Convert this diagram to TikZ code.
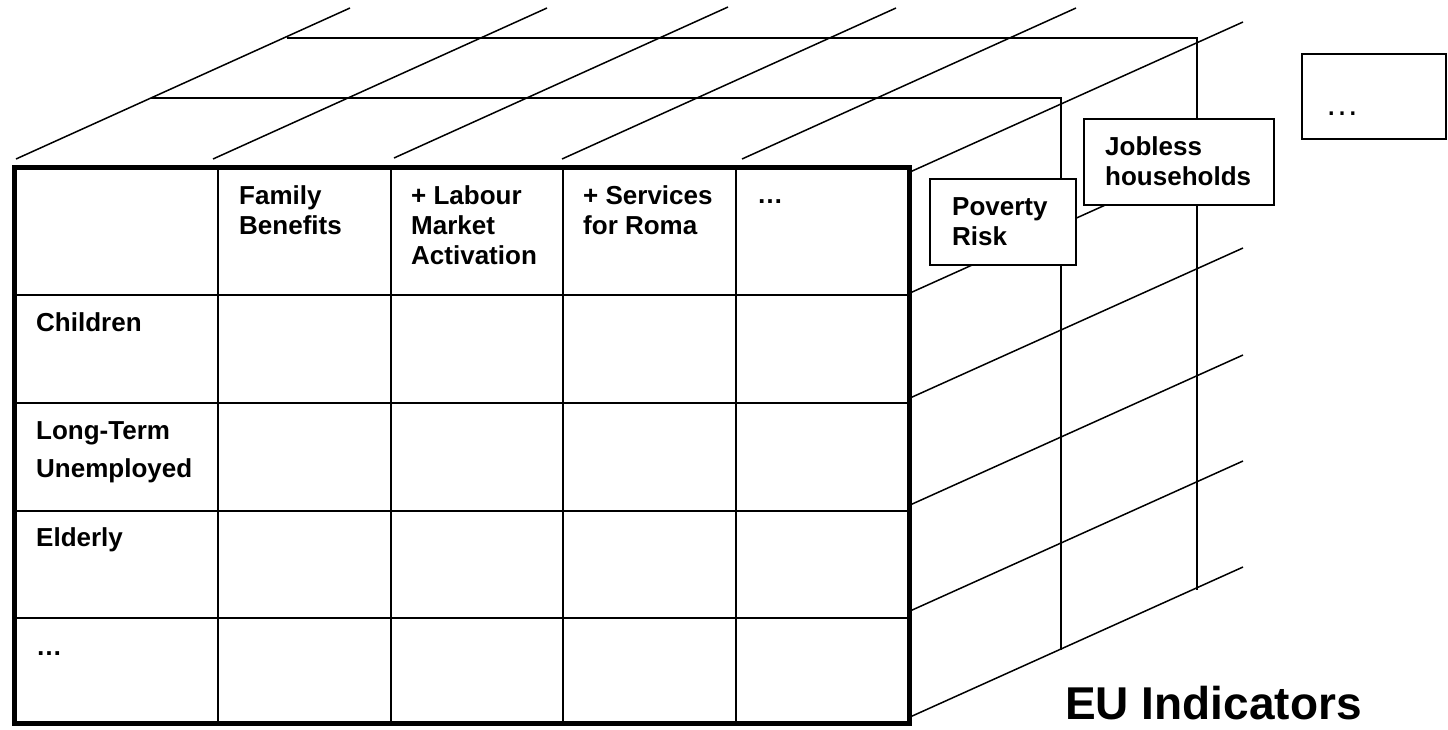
\documentclass[tikz,border=0pt]{standalone}
\usepackage{fontspec}
\setmainfont{Liberation Sans}
\newcommand\celltext[1]{\begin{tabular}[t]{@{}l@{}}#1\end{tabular}}
\begin{document}
\begin{tikzpicture}[x=1pt,y=-1pt,
  thinline/.style={line width=1.5pt},
  gridline/.style={line width=2.2pt},
  outerline/.style={line width=5pt},
  boxshape/.style={draw, line width=1.8pt, fill=white},
  lbl/.style={font=\fontsize{26}{30}\selectfont\bfseries, anchor=base west, inner sep=0pt}]
\useasboundingbox (0,0) rectangle (1448,729);

% top face depth lines
\foreach \x/\y [count=\i] in {16/159, 213/159, 394/158, 562/159, 742/159}{
  \coordinate (t\i) at (\x,\y);
  \draw[thinline] (t\i) -- ++(334,-151);
}
% right face depth lines
\foreach \y [count=\i] in {172,293,398,505,611,717}{
  \coordinate (r\i) at (910,\y);
  \draw[thinline] (r\i) -- ++(333,-150);
}
% back slices
\coordinate (s1a) at (151,98);  \coordinate (s1b) at (1061,98);  \coordinate (s1c) at (1061,650);
\coordinate (s2a) at (287,38);  \coordinate (s2b) at (1197,38);  \coordinate (s2c) at (1197,590);
\draw[thinline] (s1a) -- (s1b) -- (s1c);
\draw[thinline] (s2a) -- (s2b) -- (s2c);

% table grid
\foreach \x in {218,391,563,736}
  \draw[gridline] (\x,167) -- (\x,723);
\foreach \y in {295,403,511,618}
  \draw[gridline] (14,\y) -- (909,\y);
\draw[outerline] (14,167) rectangle (909,723);

% header texts
\node[lbl] (h1) at (239,204) {\celltext{Family\\Benefits}};
\node[lbl] (h2) at (411,204) {\celltext{+ Labour\\Market\\Activation}};
\node[lbl] (h3) at (583,204) {\celltext{+ Services\\for Roma}};
\node[lbl] (h4) at (757,203) {…};
% row texts
\node[lbl] (c1) at (36,331) {Children};
\node[lbl] (c2) at (36,439) {\celltext{Long-Term\\[8pt]Unemployed}};
\node[lbl] (c3) at (36,546) {Elderly};
\node[lbl] (c4) at (36,655) {…};

% indicator boxes
\draw[boxshape] (930,179) rectangle (1076,265);
\node[lbl] (pov) at (952,215) {\celltext{Poverty\\Risk}};
\draw[boxshape] (1084,119) rectangle (1274,205);
\node[lbl] (job) at (1105,155) {\celltext{Jobless\\households}};
\draw[boxshape] (1302,54) rectangle (1446,139);
\node[font=\fontsize{34}{34}\selectfont, inner sep=0pt] (more) at (1342,114) {…};

% caption
\node[font=\fontsize{46}{46}\selectfont\bfseries, anchor=base west, inner sep=0pt] (eu) at (1065,719) {EU Indicators};
\end{tikzpicture}
\end{document}
